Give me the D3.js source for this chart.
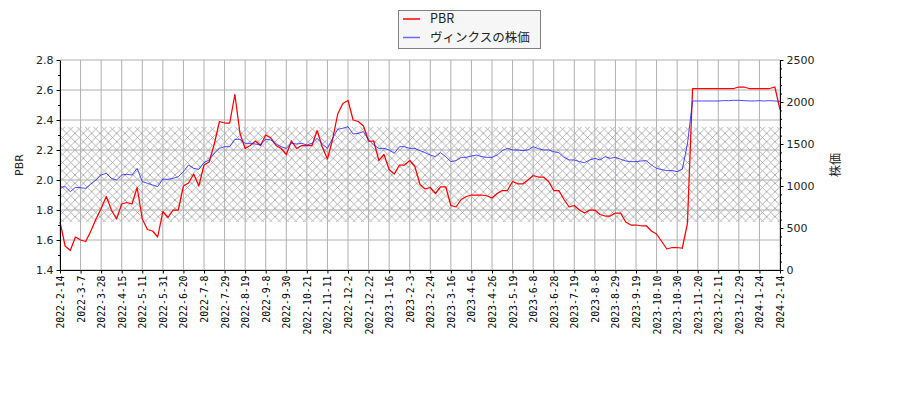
<!DOCTYPE html>
<html>
<head>
<meta charset="utf-8">
<script src="https://cdn.jsdelivr.net/npm/d3@7"></script>
<style>
body{margin:0;background:#fff;}
</style>
</head>
<body>
<svg id="chart" width="900" height="400"></svg>
<script>
// x軸ラベル（営業日ベースで等間隔）
const dateLabels = ["2022-2-14","2022-3-7","2022-3-28","2022-4-15","2022-5-11","2022-5-31","2022-6-20","2022-7-8","2022-7-29","2022-8-19","2022-9-8","2022-9-30","2022-10-21","2022-11-11","2022-12-2","2022-12-22","2023-1-16","2023-2-3","2023-2-24","2023-3-16","2023-4-6","2023-4-26","2023-5-19","2023-6-8","2023-6-28","2023-7-19","2023-8-8","2023-8-29","2023-9-19","2023-10-10","2023-10-30","2023-11-20","2023-12-11","2023-12-29","2024-1-24","2024-2-14"];

// PBR
const pbr = [1.72,1.56,1.53,1.62,1.60,1.59,1.66,1.74,1.81,1.89,1.80,1.74,1.84,1.85,1.84,1.95,1.74,1.67,1.66,1.62,
  1.79,1.75,1.80,1.80,1.96,1.98,2.04,1.96,2.10,2.12,2.24,2.39,2.38,2.38,2.57,2.31,2.21,2.23,2.26,2.23,
  2.30,2.28,2.23,2.21,2.17,2.26,2.21,2.23,2.23,2.23,2.33,2.22,2.14,2.27,2.44,2.51,2.53,2.40,2.39,2.36,
  2.26,2.26,2.13,2.17,2.07,2.04,2.10,2.10,2.13,2.09,1.97,1.94,1.95,1.91,1.955,1.955,1.83,1.82,1.87,1.89,
  1.90,1.90,1.90,1.895,1.88,1.91,1.93,1.93,1.99,1.975,1.975,2.00,2.03,2.02,2.02,1.99,1.93,1.93,1.87,1.82,
  1.83,1.80,1.78,1.80,1.80,1.77,1.76,1.76,1.78,1.78,1.72,1.70,1.70,1.695,1.695,1.66,1.64,1.59,1.54,1.55,
  1.55,1.545,1.71,2.61,2.61,2.61,2.61,2.61,2.61,2.61,2.61,2.61,2.62,2.62,2.61,2.61,2.61,2.61,2.61,2.62,2.47];

// ヴィンクスの株価
const price = [984,992,933,984,980,972,1024,1071,1131,1151,1091,1071,1131,1139,1131,1210,1052,1032,1012,992,
  1083,1079,1091,1111,1171,1250,1210,1198,1278,1310,1389,1448,1468,1468,1556,1556,1508,1508,1500,1488,
  1556,1548,1500,1468,1448,1508,1500,1508,1488,1508,1567,1500,1448,1567,1675,1687,1706,1619,1627,1647,
  1548,1488,1448,1448,1429,1389,1468,1468,1448,1448,1420,1397,1369,1349,1397,1349,1290,1302,1341,1341,
  1357,1369,1349,1341,1341,1369,1421,1448,1429,1429,1421,1429,1468,1444,1429,1429,1409,1397,1341,1310,
  1310,1290,1278,1310,1329,1310,1349,1329,1341,1318,1298,1290,1290,1298,1302,1250,1210,1195,1183,1183,
  1171,1198,1500,2012,2012,2012,2012,2012,2012,2016,2016,2020,2020,2016,2012,2012,2016,2012,2016,2012,2008];

// PBRレンジ（網掛け）
const bandRange = [1.72, 2.355];

const seriesNames = ["PBR", "ヴィンクスの株価"];

const svg = d3.select("#chart");
const m = {left: 60, right: 780, top: 60, bottom: 270};

const x = d3.scaleLinear().domain([0, pbr.length - 1]).range([m.left, m.right]);
const yL = d3.scaleLinear().domain([1.4, 2.8]).range([m.bottom, m.top]);
const yR = d3.scaleLinear().domain([0, 2500]).range([m.bottom, m.top]);

const step = (pbr.length - 1) / (dateLabels.length - 1);
const xTicks = d3.range(dateLabels.length).map(i => i * step);

// 網掛けパターン
const hs = 100 / 12;
const pat = svg.append("defs").append("pattern")
  .attr("id", "hatch").attr("patternUnits", "userSpaceOnUse")
  .attr("width", hs).attr("height", hs);
pat.append("path")
  .attr("d", `M0,0L${hs},${hs}M${hs},0L0,${hs}`)
  .attr("stroke", "#a0a0a0").attr("stroke-width", 0.8).attr("fill", "none");

svg.append("rect")
  .attr("x", m.left).attr("width", m.right - m.left)
  .attr("y", yL(bandRange[1])).attr("height", yL(bandRange[0]) - yL(bandRange[1]))
  .attr("fill", "url(#hatch)");

// グリッド
const grid = svg.append("g").attr("stroke", "#b0b0b0").attr("stroke-width", 1);
grid.selectAll(".gx").data(xTicks).enter().append("line")
  .attr("x1", d => x(d)).attr("x2", d => x(d)).attr("y1", m.top).attr("y2", m.bottom);
grid.selectAll(".gy").data(d3.range(1.4, 2.81, 0.2)).enter().append("line")
  .attr("x1", m.left).attr("x2", m.right).attr("y1", d => yL(d)).attr("y2", d => yL(d));

// ライン
const linePbr = d3.line().x((d, i) => x(i)).y(d => yL(d));
const linePrice = d3.line().x((d, i) => x(i)).y(d => yR(d));

svg.append("path").datum(pbr).attr("d", linePbr)
  .attr("fill", "none").attr("stroke", "#ff0000").attr("stroke-width", 1.25).attr("stroke-linejoin", "round");
svg.append("path").datum(price).attr("d", linePrice)
  .attr("fill", "none").attr("stroke", "#1a1aff").attr("stroke-width", 0.8).attr("stroke-linejoin", "round");

// 軸
const xAxis = svg.append("g").attr("transform", `translate(0,${m.bottom})`)
  .call(d3.axisBottom(x).tickValues(xTicks).tickFormat((d, i) => dateLabels[i]).tickSize(3.5).tickSizeOuter(0));
xAxis.selectAll("text")
  .attr("transform", "rotate(-90)")
  .attr("x", -5.5).attr("y", 0).attr("dy", "0.35em")
  .style("text-anchor", "end")
  .style("font-family", "'DejaVu Sans Mono', monospace").style("font-size", "9.8px");

const yAxisL = svg.append("g").attr("transform", `translate(${m.left},0)`)
  .call(d3.axisLeft(yL).tickValues(d3.range(1.4, 2.81, 0.2)).tickFormat(d3.format(".1f")).tickSize(3.5).tickSizeOuter(0));
svg.append("g").attr("transform", `translate(${m.left},0)`)
  .call(d3.axisLeft(yL).tickValues(d3.range(1.5, 2.8, 0.2)).tickFormat("").tickSize(2).tickSizeOuter(0))
  .select(".domain").remove();

const yAxisR = svg.append("g").attr("transform", `translate(${m.right},0)`)
  .call(d3.axisRight(yR).tickValues(d3.range(0, 2501, 500)).tickFormat(d3.format("d")).tickSize(3.5).tickSizeOuter(0));
svg.append("g").attr("transform", `translate(${m.right},0)`)
  .call(d3.axisRight(yR).tickValues(d3.range(0, 2501, 100).filter(v => v % 500 !== 0)).tickFormat("").tickSize(2).tickSizeOuter(0))
  .select(".domain").remove();

[yAxisL, yAxisR].forEach(a => a.selectAll("text")
  .style("font-family", "'DejaVu Sans', sans-serif").style("font-size", "11px").attr("fill", "#222"));

// 軸ラベル
svg.append("text").text("PBR")
  .attr("transform", `translate(23,${(m.top + m.bottom) / 2}) rotate(-90)`)
  .attr("text-anchor", "middle")
  .style("font-family", "'DejaVu Sans', sans-serif").style("font-size", "11px").attr("fill", "#222");
svg.append("text").text("株価")
  .attr("transform", `translate(840,${(m.top + m.bottom) / 2}) rotate(-90)`)
  .attr("text-anchor", "middle")
  .style("font-family", "'Noto Sans CJK JP', sans-serif").style("font-size", "12px").attr("fill", "#222");

// 凡例
const legend = svg.append("g");
legend.append("rect").attr("x", 398.5).attr("y", 10.5).attr("width", 142).attr("height", 38)
  .attr("fill", "#f6f6f6").attr("stroke", "#808080").attr("stroke-width", 1);
const legendColors = ["#ff0000", "#6a6aff"];
seriesNames.forEach((name, i) => {
  const ly = 19 + i * 18.5;
  legend.append("line").attr("x1", 403).attr("x2", 420).attr("y1", ly).attr("y2", ly)
    .attr("stroke", legendColors[i]).attr("stroke-width", 1.5);
  legend.append("text").text(name).attr("x", 430).attr("y", ly).attr("dy", "0.35em")
    .style("font-family", "'Noto Sans CJK JP', sans-serif").style("font-size", "12.5px").attr("fill", "#222");
});
</script>
</body>
</html>
